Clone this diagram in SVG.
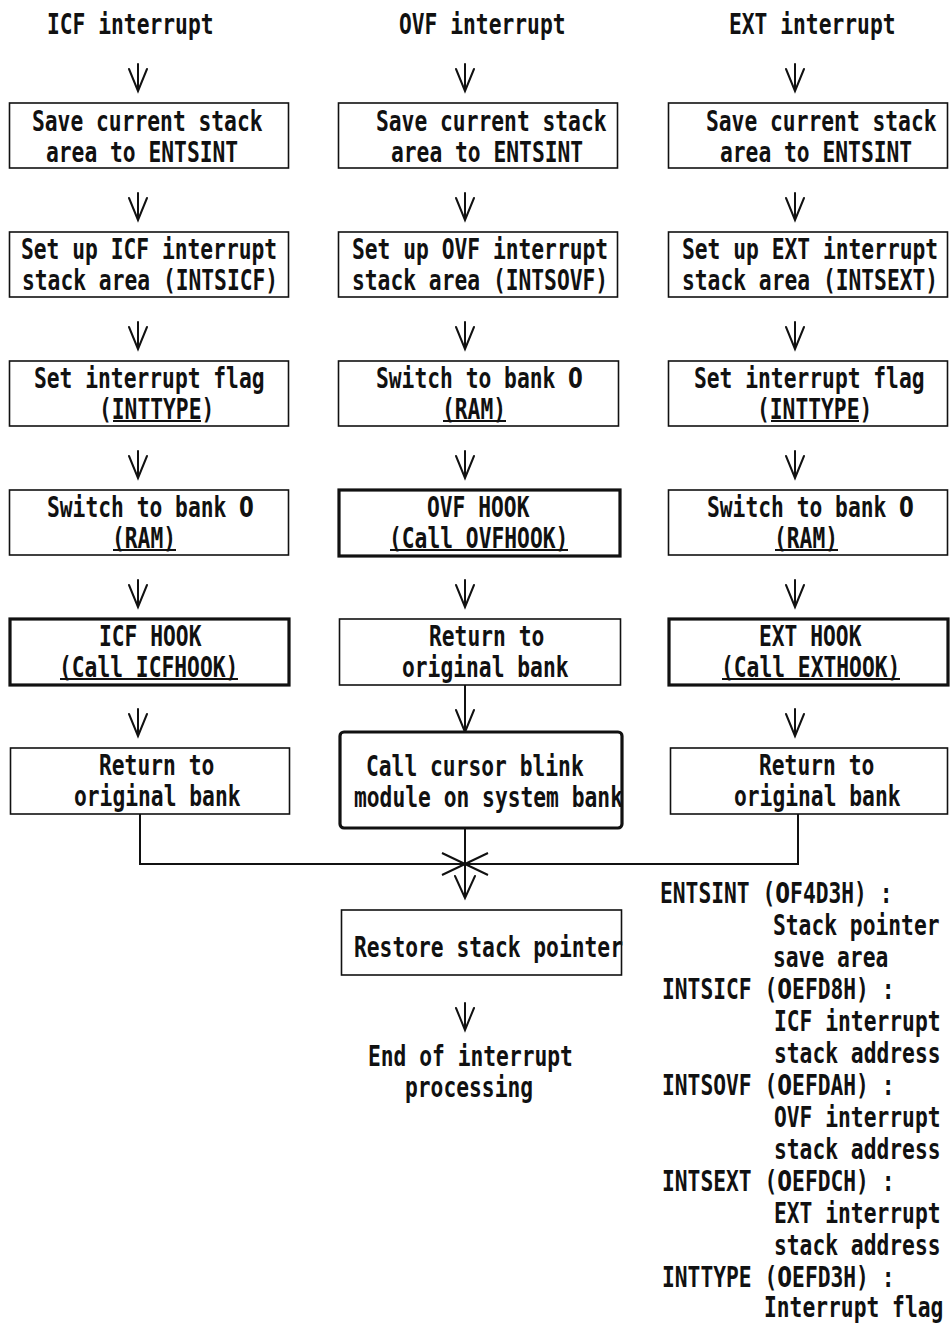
<svg xmlns="http://www.w3.org/2000/svg" width="950" height="1325" viewBox="0 0 950 1325">
<style>
  text { font-family: "DejaVu Sans Mono", "Liberation Mono", monospace; font-size: 28px; font-weight: bold; fill: #111; }
  .z { font-family: "DejaVu Sans", "Liberation Sans", sans-serif; }
  .box { fill: #fff; stroke: #111; stroke-width: 1.6; }
  .hook { fill: #fff; stroke: #111; stroke-width: 3.2; }
  .arr { fill: none; stroke: #111; stroke-width: 2; stroke-linecap: round; }
  .ln { fill: none; stroke: #111; stroke-width: 2; }
  .ul { stroke: #111; stroke-width: 1.8; }
</style>
<rect width="950" height="1325" fill="#fff"/>

<!-- connectors -->
<g id="connectors">
  <!-- ICF column -->
  <path class="arr" d="M138,64 V91 M129,69 L138,91 L147,69"/>
  <path class="arr" d="M138,193 V220 M129,198 L138,220 L147,198"/>
  <path class="arr" d="M138,322 V349 M129,327 L138,349 L147,327"/>
  <path class="arr" d="M138,451 V478 M129,456 L138,478 L147,456"/>
  <path class="arr" d="M138,580 V607 M129,585 L138,607 L147,585"/>
  <path class="arr" d="M138,709 V736 M129,714 L138,736 L147,714"/>
  <!-- OVF column -->
  <path class="arr" d="M465,64 V91 M456,69 L465,91 L474,69"/>
  <path class="arr" d="M465,193 V220 M456,198 L465,220 L474,198"/>
  <path class="arr" d="M465,322 V349 M456,327 L465,349 L474,327"/>
  <path class="arr" d="M465,451 V478 M456,456 L465,478 L474,456"/>
  <path class="arr" d="M465,580 V607 M456,585 L465,607 L474,585"/>
  <path class="arr" d="M465,685 V732 M456,710 L465,732 L474,710"/>
  <!-- EXT column -->
  <path class="arr" d="M795,64 V91 M786,69 L795,91 L804,69"/>
  <path class="arr" d="M795,193 V220 M786,198 L795,220 L804,198"/>
  <path class="arr" d="M795,322 V349 M786,327 L795,349 L804,327"/>
  <path class="arr" d="M795,451 V478 M786,456 L795,478 L804,456"/>
  <path class="arr" d="M795,580 V607 M786,585 L795,607 L804,585"/>
  <path class="arr" d="M795,709 V736 M786,714 L795,736 L804,714"/>
  <!-- merge of the three paths -->
  <path class="ln" d="M140,814 V864 H798 V814"/>
  <path class="arr" d="M465,828 V898 M455,876 L465,898 L475,876"/>
  <path class="ln" d="M442,853 L488,875 M488,853 L442,875"/>
  <!-- to end -->
  <path class="arr" d="M465,1003 V1030 M456,1008 L465,1030 L474,1008"/>
</g>

<!-- column titles -->
<g id="title-icf"><text transform="translate(47,34) scale(.76,1)">ICF interrupt</text></g>
<g id="title-ovf"><text transform="translate(399,34) scale(.76,1)">OVF interrupt</text></g>
<g id="title-ext"><text transform="translate(729,34) scale(.76,1)">EXT interrupt</text></g>

<!-- ICF column -->
<g id="icf-save">
  <rect class="box" x="9.5" y="103" width="279" height="65"/>
  <text transform="translate(32,131) scale(.76,1)">Save current stack</text>
  <text transform="translate(46,162) scale(.76,1)">area to ENTSINT</text>
</g>
<g id="icf-setup">
  <rect class="box" x="9.5" y="232" width="279" height="65"/>
  <text transform="translate(21,259) scale(.76,1)">Set up ICF interrupt</text>
  <text transform="translate(22,290) scale(.76,1)">stack area (INTSICF)</text>
</g>
<g id="icf-flag">
  <rect class="box" x="9.5" y="361" width="279" height="65"/>
  <text transform="translate(34,388) scale(.76,1)">Set interrupt flag</text>
  <text transform="translate(99,419) scale(.76,1)">(INTTYPE)</text>
  <line class="ul" x1="113" y1="421" x2="201" y2="421"/>
</g>
<g id="icf-bank">
  <rect class="box" x="9.5" y="490" width="279" height="65"/>
  <text transform="translate(47,517) scale(.76,1)">Switch to bank <tspan class="z">0</tspan></text>
  <text transform="translate(112,548) scale(.76,1)">(RAM)</text>
  <line class="ul" x1="113" y1="550" x2="176" y2="550"/>
</g>
<g id="icf-hook">
  <rect class="hook" x="10" y="619" width="279" height="66"/>
  <text transform="translate(99,646) scale(.76,1)">ICF HOOK</text>
  <text transform="translate(59,677) scale(.76,1)">(Call ICFHOOK)</text>
  <line class="ul" x1="60" y1="679" x2="238" y2="679"/>
</g>
<g id="icf-return">
  <rect class="box" x="10.5" y="748" width="279" height="66"/>
  <text transform="translate(99,775) scale(.76,1)">Return to</text>
  <text transform="translate(74,806) scale(.76,1)">original bank</text>
</g>

<!-- OVF column -->
<g id="ovf-save">
  <rect class="box" x="338.5" y="103" width="279" height="65"/>
  <text transform="translate(376,131) scale(.76,1)">Save current stack</text>
  <text transform="translate(391,162) scale(.76,1)">area to ENTSINT</text>
</g>
<g id="ovf-setup">
  <rect class="box" x="338.5" y="232" width="279" height="65"/>
  <text transform="translate(352,259) scale(.76,1)">Set up OVF interrupt</text>
  <text transform="translate(352,290) scale(.76,1)">stack area (INTSOVF)</text>
</g>
<g id="ovf-bank">
  <rect class="box" x="338.5" y="361" width="280" height="65"/>
  <text transform="translate(376,388) scale(.76,1)">Switch to bank <tspan class="z">0</tspan></text>
  <text transform="translate(442,419) scale(.76,1)">(RAM)</text>
  <line class="ul" x1="443" y1="421" x2="506" y2="421"/>
</g>
<g id="ovf-hook">
  <rect class="hook" x="339" y="490" width="281" height="66"/>
  <text transform="translate(427,517) scale(.76,1)">OVF HOOK</text>
  <text transform="translate(389,548) scale(.76,1)">(Call OVFHOOK)</text>
  <line class="ul" x1="390" y1="550" x2="568" y2="550"/>
</g>
<g id="ovf-return">
  <rect class="box" x="339.5" y="619" width="281" height="66"/>
  <text transform="translate(429,646) scale(.76,1)">Return to</text>
  <text transform="translate(402,677) scale(.76,1)">original bank</text>
</g>
<g id="ovf-cursor">
  <rect class="hook" x="340" y="732" width="282" height="96" rx="4"/>
  <text transform="translate(366,776) scale(.76,1)">Call cursor blink</text>
  <text transform="translate(354,807) scale(.76,1)">module on system bank</text>
</g>

<!-- EXT column -->
<g id="ext-save">
  <rect class="box" x="668.5" y="103" width="279" height="65"/>
  <text transform="translate(706,131) scale(.76,1)">Save current stack</text>
  <text transform="translate(720,162) scale(.76,1)">area to ENTSINT</text>
</g>
<g id="ext-setup">
  <rect class="box" x="668.5" y="232" width="279" height="65"/>
  <text transform="translate(682,259) scale(.76,1)">Set up EXT interrupt</text>
  <text transform="translate(682,290) scale(.76,1)">stack area (INTSEXT)</text>
</g>
<g id="ext-flag">
  <rect class="box" x="668.5" y="361" width="279" height="65"/>
  <text transform="translate(694,388) scale(.76,1)">Set interrupt flag</text>
  <text transform="translate(757,419) scale(.76,1)">(INTTYPE)</text>
  <line class="ul" x1="771" y1="421" x2="859" y2="421"/>
</g>
<g id="ext-bank">
  <rect class="box" x="668.5" y="490" width="279" height="65"/>
  <text transform="translate(707,517) scale(.76,1)">Switch to bank <tspan class="z">0</tspan></text>
  <text transform="translate(774,548) scale(.76,1)">(RAM)</text>
  <line class="ul" x1="775" y1="550" x2="838" y2="550"/>
</g>
<g id="ext-hook">
  <rect class="hook" x="669" y="619" width="279" height="66"/>
  <text transform="translate(759,646) scale(.76,1)">EXT HOOK</text>
  <text transform="translate(721,677) scale(.76,1)">(Call EXTHOOK)</text>
  <line class="ul" x1="722" y1="679" x2="900" y2="679"/>
</g>
<g id="ext-return">
  <rect class="box" x="670.5" y="748" width="277" height="66"/>
  <text transform="translate(759,775) scale(.76,1)">Return to</text>
  <text transform="translate(734,806) scale(.76,1)">original bank</text>
</g>

<!-- common tail -->
<g id="restore">
  <rect class="box" x="341.5" y="910" width="280" height="65"/>
  <text transform="translate(354,957) scale(.76,1)">Restore stack pointer</text>
</g>
<g id="end">
  <text transform="translate(368,1066) scale(.76,1)">End of interrupt</text>
  <text transform="translate(405,1097) scale(.76,1)">processing</text>
</g>

<!-- address legend -->
<g id="legend">
  <text transform="translate(660,903) scale(.76,1)">ENTSINT (<tspan class="z">0</tspan>F4D3H) :</text>
  <text transform="translate(773,935) scale(.76,1)">Stack pointer</text>
  <text transform="translate(773,967) scale(.76,1)">save area</text>
  <text transform="translate(662,999) scale(.76,1)">INTSICF (<tspan class="z">0</tspan>EFD8H) :</text>
  <text transform="translate(774,1031) scale(.76,1)">ICF interrupt</text>
  <text transform="translate(774,1063) scale(.76,1)">stack address</text>
  <text transform="translate(662,1095) scale(.76,1)">INTSOVF (<tspan class="z">0</tspan>EFDAH) :</text>
  <text transform="translate(774,1127) scale(.76,1)">OVF interrupt</text>
  <text transform="translate(774,1159) scale(.76,1)">stack address</text>
  <text transform="translate(662,1191) scale(.76,1)">INTSEXT (<tspan class="z">0</tspan>EFDCH) :</text>
  <text transform="translate(774,1223) scale(.76,1)">EXT interrupt</text>
  <text transform="translate(774,1255) scale(.76,1)">stack address</text>
  <text transform="translate(662,1287) scale(.76,1)">INTTYPE (<tspan class="z">0</tspan>EFD3H) :</text>
  <text transform="translate(764,1317) scale(.76,1)">Interrupt flag</text>
</g>
</svg>
